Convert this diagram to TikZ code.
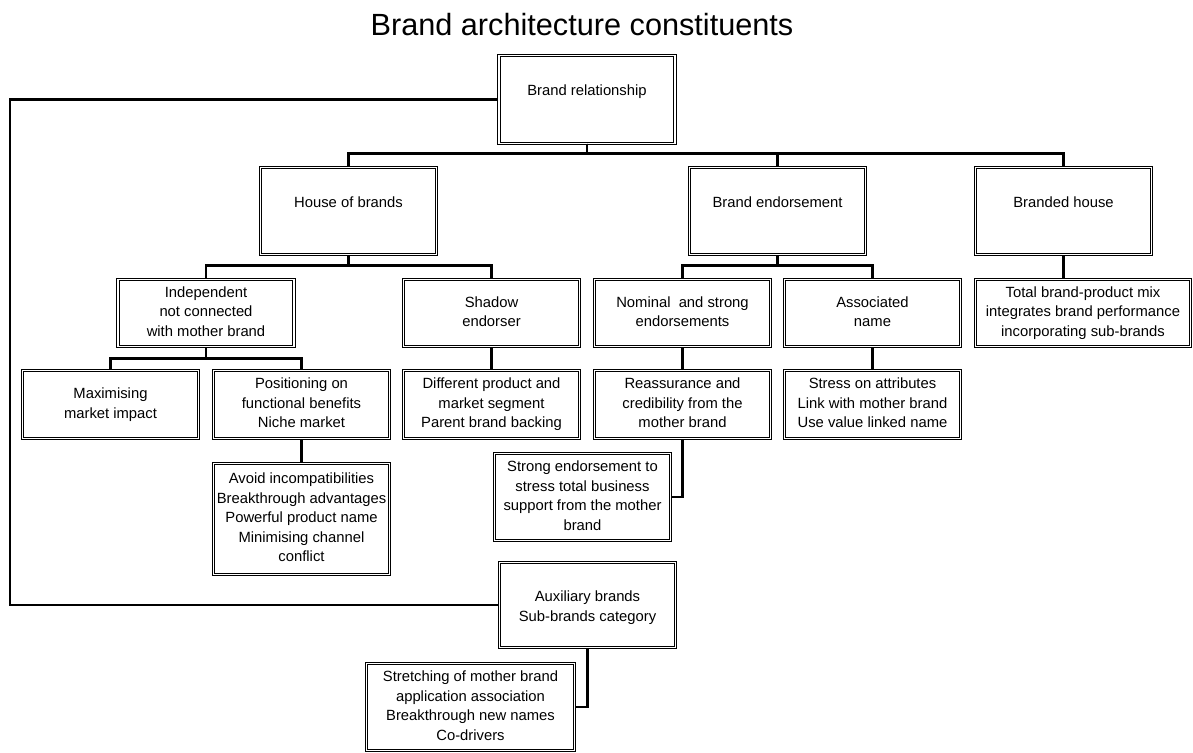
\documentclass[tikz,border=0pt]{standalone}
\usepackage{fontspec}
\setmainfont{Liberation Sans}
\usetikzlibrary{calc,positioning}
\setlength{\tabcolsep}{0pt}

\begin{document}
\begin{tikzpicture}[
    x=0.75pt,y=-0.75pt,
    box/.style={draw,double,line width=0.8pt,double distance=0.8pt,inner sep=1pt,
      font=\fontsize{11.1}{14.6}\selectfont},
    bigbox/.style={box,minimum width=132pt,minimum height=65.5pt,text depth=14pt},
    midbox/.style={box,minimum width=132pt,minimum height=50.5pt},
    lowbox/.style={box,minimum width=132pt,minimum height=51pt},
    conn/.style={line width=2pt}
    ]

    \useasboundingbox (0,0) rectangle (1193,753);

    \node(title) at (582,25) {\fontsize{23}{27}\selectfont Brand architecture constituents};

    % top of the tree
    \node(br) [bigbox] at (587,99.5) {Brand relationship};
    \node(hob) [bigbox] at (348.5,211) {House of brands};
    \node(be) [bigbox] at (777.5,211) {Brand endorsement};
    \node(bh) [bigbox] at (1063.5,211) {Branded house};

    \node(hob_ind) [midbox] at (206,313) {
      \begin{tabular}{c}
        Independent\\
        not connected\\
        with mother brand
      \end{tabular}
    };
    \node(hob_shd) [midbox] at (491.5,313) {
      \begin{tabular}{c}
        Shadow\\
        endorser
      \end{tabular}
    };
    \node(be_nom) [midbox] at (682.5,313) {
      \begin{tabular}{c}
        Nominal\ \ and strong\\
        endorsements
      \end{tabular}
    };
    \node(be_asc) [midbox] at (872.5,313) {
      \begin{tabular}{c}
        Associated\\
        name
      \end{tabular}
    };
    \node(bh_tot) [midbox,minimum width=161pt] at (1083,313) {
      \begin{tabular}{c}
        Total brand-product mix\\
        integrates brand performance\\
        incorporating sub-brands
      \end{tabular}
    };

    \node(ind_max) [lowbox] at (110.5,404.5) {
      \begin{tabular}{c}
        Maximising\\
        market impact
      \end{tabular}
    };
    \node(ind_pos) [lowbox] at (301.5,404.5) {
      \begin{tabular}{c}
        Positioning on\\
        functional benefits\\
        Niche market
      \end{tabular}
    };
    \node(shd_dif) [lowbox] at (491.5,404.5) {
      \begin{tabular}{c}
        Different product and\\
        market segment\\
        Parent brand backing
      \end{tabular}
    };
    \node(nom_rea) [lowbox] at (682.5,404.5) {
      \begin{tabular}{c}
        Reassurance and\\
        credibility from the\\
        mother brand
      \end{tabular}
    };
    \node(asc_str) [lowbox] at (872.5,404.5) {
      \begin{tabular}{c}
        Stress on attributes\\
        Link with mother brand\\
        Use value linked name
      \end{tabular}
    };

    \node(pos_avo) [box,minimum width=132pt,minimum height=83pt] at (301.5,519) {
      \begin{tabular}{c}
        Avoid incompatibilities\\
        Breakthrough advantages\\
        Powerful product name\\
        Minimising channel\\
        conflict
      \end{tabular}
    };
    \node(rea_sen) [box,minimum width=132pt,minimum height=65pt] at (582.5,497) {
      \begin{tabular}{c}
        Strong endorsement to\\
        stress total business\\
        support from the mother\\
        brand
      \end{tabular}
    };

    \node(aux) [box,minimum width=132pt,minimum height=64pt,text depth=8pt] at (587.5,605) {
      \begin{tabular}{c}
        Auxiliary brands\\
        Sub-brands category
      \end{tabular}
    };
    \node(aux_stc) [box,minimum width=156pt,minimum height=65pt] at (470.5,707) {
      \begin{tabular}{c}
        Stretching of mother brand\\
        application association\\
        Breakthrough new names\\
        Co-drivers
      \end{tabular}
    };

    % connectors
    \draw[conn] (br.south) -- ++(0,10) -| (hob.north);
    \draw[conn] (br.south) -- ++(0,10) -| (be.north);
    \draw[conn] (br.south) -- ++(0,10) -| (bh.north);
    \draw[conn] (hob.south) -- ++(0,10) -| (hob_ind.north);
    \draw[conn] (hob.south) -- ++(0,10) -| (hob_shd.north);
    \draw[conn] (be.south) -- ++(0,10) -| (be_nom.north);
    \draw[conn] (be.south) -- ++(0,10) -| (be_asc.north);
    \draw[conn] (bh.south) -- (bh.south |- bh_tot.north);
    \draw[conn] (hob_ind.south) -- ++(0,11) -| (ind_max.north);
    \draw[conn] (hob_ind.south) -- ++(0,11) -| (ind_pos.north);
    \draw[conn] (hob_shd) -- (shd_dif);
    \draw[conn] (be_nom) -- (nom_rea);
    \draw[conn] (be_asc) -- (asc_str);
    \draw[conn] (ind_pos) -- (pos_avo);
    \draw[conn] (nom_rea.south) |- (rea_sen.east);
    \coordinate(edge) at (10,0);
    \draw[conn] (br.west) -- (br.west -| edge) -- (aux.west -| edge) -- (aux.west);
    \draw[conn] (aux.south) |- (aux_stc.east);

\end{tikzpicture}
\end{document}
